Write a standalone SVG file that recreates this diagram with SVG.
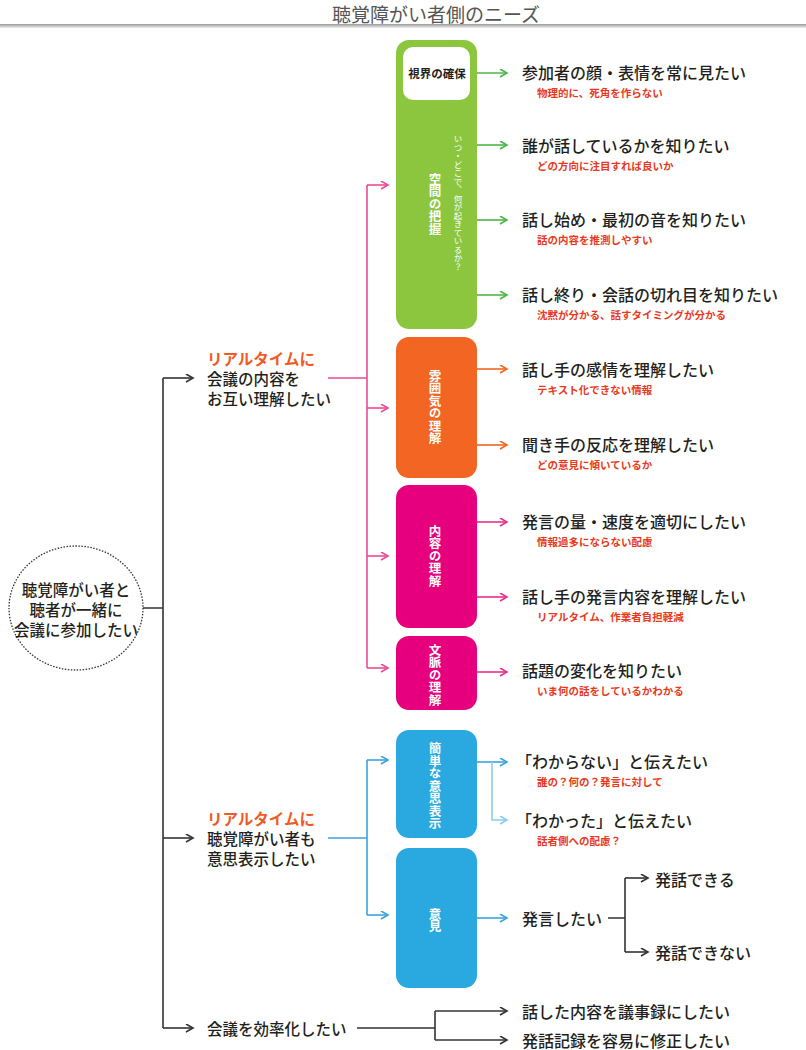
<svg xmlns="http://www.w3.org/2000/svg" width="806" height="1050" viewBox="0 0 806 1050">
<style>
text{font-family:"Noto Sans CJK JP","Noto Sans",sans-serif;dominant-baseline:central}
.t{font-size:16px;fill:#231f20;font-weight:500}
.b{font-size:15.5px;fill:#231f20;font-weight:500}
.o{font-size:15.5px;fill:#f15a24;font-weight:bold}
.s{font-size:10.5px;fill:#e8391d;font-weight:bold}
.v{writing-mode:vertical-rl;fill:#fff;font-size:12.5px;font-weight:bold;text-anchor:middle}
.vs{writing-mode:vertical-rl;fill:#fff;font-size:8.5px;text-anchor:middle}
.c{fill:none;stroke-width:1.6}
.k{stroke:#333}.p{stroke:#ec4a97}.g{stroke:#4cb648}.r{stroke:#f26522}.m{stroke:#e9308b}.bl{stroke:#3ba3dc}.lb{stroke:#8ecbec}
</style>
<defs>
<linearGradient id="hl" x1="0" y1="0" x2="0" y2="1"><stop offset="0" stop-color="#999"/><stop offset="1" stop-color="#eee"/></linearGradient>
<marker id="ak" markerWidth="10" markerHeight="10" refX="8" refY="4.5" orient="auto" markerUnits="userSpaceOnUse"><path d="M1,0.5 L8,4.5 L1,8.5" fill="none" stroke="#333" stroke-width="1.6"/></marker>
<marker id="ap" markerWidth="10" markerHeight="10" refX="8" refY="4.5" orient="auto" markerUnits="userSpaceOnUse"><path d="M1,0.5 L8,4.5 L1,8.5" fill="none" stroke="#ec4a97" stroke-width="1.6"/></marker>
<marker id="ag" markerWidth="10" markerHeight="10" refX="8" refY="4.5" orient="auto" markerUnits="userSpaceOnUse"><path d="M1,0.5 L8,4.5 L1,8.5" fill="none" stroke="#4cb648" stroke-width="1.6"/></marker>
<marker id="ar" markerWidth="10" markerHeight="10" refX="8" refY="4.5" orient="auto" markerUnits="userSpaceOnUse"><path d="M1,0.5 L8,4.5 L1,8.5" fill="none" stroke="#f26522" stroke-width="1.6"/></marker>
<marker id="am" markerWidth="10" markerHeight="10" refX="8" refY="4.5" orient="auto" markerUnits="userSpaceOnUse"><path d="M1,0.5 L8,4.5 L1,8.5" fill="none" stroke="#e9308b" stroke-width="1.6"/></marker>
<marker id="ab" markerWidth="10" markerHeight="10" refX="8" refY="4.5" orient="auto" markerUnits="userSpaceOnUse"><path d="M1,0.5 L8,4.5 L1,8.5" fill="none" stroke="#3ba3dc" stroke-width="1.6"/></marker>
<marker id="al" markerWidth="10" markerHeight="10" refX="8" refY="4.5" orient="auto" markerUnits="userSpaceOnUse"><path d="M1,0.5 L8,4.5 L1,8.5" fill="none" stroke="#8ecbec" stroke-width="1.6"/></marker>
</defs>
<rect width="806" height="1050" fill="#fff"/>
<g id="title">
<text x="436" y="13" font-size="19" fill="#555" text-anchor="middle">聴覚障がい者側のニーズ</text>
<rect x="0" y="24" width="806" height="4" fill="url(#hl)"/>
</g>
<g id="connectors">
<path class="c k" d="M142,608 H163 M163,378 V1028"/>
<path class="c k" d="M163,378 H193" marker-end="url(#ak)"/>
<path class="c k" d="M163,838 H193" marker-end="url(#ak)"/>
<path class="c k" d="M163,1028 H193" marker-end="url(#ak)"/>
<path class="c k" d="M357,1028 H435 M435,1011 V1040"/>
<path class="c k" d="M435,1011 H507" marker-end="url(#ak)"/>
<path class="c k" d="M435,1040 H507" marker-end="url(#ak)"/>
<path class="c k" d="M608,918 H625 M625,878 V952"/>
<path class="c k" d="M625,878 H648" marker-end="url(#ak)"/>
<path class="c k" d="M625,952 H648" marker-end="url(#ak)"/>
<path class="c p" d="M328,378 H367 M367,185 V668"/>
<path class="c p" d="M367,185 H388" marker-end="url(#ap)"/>
<path class="c p" d="M367,408 H388" marker-end="url(#ap)"/>
<path class="c p" d="M367,556 H388" marker-end="url(#ap)"/>
<path class="c p" d="M367,668 H388" marker-end="url(#ap)"/>
<path class="c bl" d="M328,838 H367 M367,760 V915"/>
<path class="c bl" d="M367,760 H388" marker-end="url(#ab)"/>
<path class="c bl" d="M367,915 H388" marker-end="url(#ab)"/>
<path class="c g" d="M470,73 H507" marker-end="url(#ag)"/>
<path class="c g" d="M477,145 H507" marker-end="url(#ag)"/>
<path class="c g" d="M477,220 H507" marker-end="url(#ag)"/>
<path class="c g" d="M477,295 H507" marker-end="url(#ag)"/>
<path class="c r" d="M477,369 H507" marker-end="url(#ar)"/>
<path class="c r" d="M477,445 H507" marker-end="url(#ar)"/>
<path class="c m" d="M477,522 H507" marker-end="url(#am)"/>
<path class="c m" d="M477,597 H507" marker-end="url(#am)"/>
<path class="c m" d="M477,672 H507" marker-end="url(#am)"/>
<path class="c bl" d="M477,762 H507" marker-end="url(#ab)"/>
<path class="c lb" d="M492,762 V820 H507" marker-end="url(#al)"/>
<path class="c bl" d="M477,918 H507" marker-end="url(#ab)"/>
</g>
<g id="root">
<ellipse cx="76" cy="608" rx="67" ry="62" fill="#fff" stroke="#333" stroke-width="1.3" stroke-dasharray="1.5 1.5"/>
<text x="76" y="589" font-size="15.5" font-weight="500" fill="#231f20" text-anchor="middle">聴覚障がい者と</text>
<text x="76" y="609" font-size="15.5" font-weight="500" fill="#231f20" text-anchor="middle">聴者が一緒に</text>
<text x="76" y="629" font-size="15.5" font-weight="500" fill="#231f20" text-anchor="middle">会議に参加したい</text>
</g>
<g id="need-understand">
<text class="o" x="207" y="358">リアルタイムに</text>
<text class="b" x="207" y="378">会議の内容を</text>
<text class="b" x="207" y="398">お互い理解したい</text>
</g>
<g id="need-express">
<text class="o" x="207" y="818">リアルタイムに</text>
<text class="b" x="207" y="838">聴覚障がい者も</text>
<text class="b" x="207" y="858">意思表示したい</text>
</g>
<g id="need-efficiency">
<text class="b" x="207" y="1028">会議を効率化したい</text>
</g>
<g id="block-space">
<rect x="396" y="40" width="81" height="289" rx="13" fill="#8cc63f"/>
<rect x="403" y="47" width="67" height="53" rx="10" fill="#fff"/>
<text x="437" y="73" font-size="11.5" font-weight="bold" fill="#231f20" text-anchor="middle">視界の確保</text>
<text class="v" x="435" y="204">空間の把握</text>
<text class="vs" x="458" y="203">いつ・どこで、何が起きているか？</text>
</g>
<g id="block-mood">
<rect x="396" y="337" width="81" height="141" rx="13" fill="#f26522"/>
<text class="v" x="435" y="407">雰囲気の理解</text>
</g>
<g id="block-content">
<rect x="396" y="485" width="81" height="143" rx="13" fill="#e6007e"/>
<text class="v" x="435" y="556">内容の理解</text>
</g>
<g id="block-context">
<rect x="396" y="636" width="81" height="74" rx="13" fill="#e6007e"/>
<text class="v" x="435" y="675">文脈の理解</text>
</g>
<g id="block-simple">
<rect x="396" y="730" width="81" height="108" rx="13" fill="#29a9e0"/>
<text class="v" x="435" y="786">簡単な意思表示</text>
</g>
<g id="block-opinion">
<rect x="396" y="848" width="81" height="140" rx="13" fill="#29a9e0"/>
<text class="v" x="435" y="920">意見</text>
</g>
<g id="leaf1"><text class="t" x="522" y="72">参加者の顔・表情を常に見たい</text><text class="s" x="537" y="92">物理的に、死角を作らない</text></g>
<g id="leaf2"><text class="t" x="522" y="145">誰が話しているかを知りたい</text><text class="s" x="537" y="165">どの方向に注目すれば良いか</text></g>
<g id="leaf3"><text class="t" x="522" y="219">話し始め・最初の音を知りたい</text><text class="s" x="537" y="239">話の内容を推測しやすい</text></g>
<g id="leaf4"><text class="t" x="522" y="294">話し終り・会話の切れ目を知りたい</text><text class="s" x="537" y="314">沈黙が分かる、話すタイミングが分かる</text></g>
<g id="leaf5"><text class="t" x="522" y="369">話し手の感情を理解したい</text><text class="s" x="537" y="389">テキスト化できない情報</text></g>
<g id="leaf6"><text class="t" x="522" y="444">聞き手の反応を理解したい</text><text class="s" x="537" y="464">どの意見に傾いているか</text></g>
<g id="leaf7"><text class="t" x="522" y="521">発言の量・速度を適切にしたい</text><text class="s" x="537" y="541">情報過多にならない配慮</text></g>
<g id="leaf8"><text class="t" x="522" y="596">話し手の発言内容を理解したい</text><text class="s" x="537" y="616">リアルタイム、作業者負担軽減</text></g>
<g id="leaf9"><text class="t" x="522" y="670">話題の変化を知りたい</text><text class="s" x="537" y="690">いま何の話をしているかわかる</text></g>
<g id="leaf10"><text class="t" x="516" y="761">「わからない」と伝えたい</text><text class="s" x="537" y="781">誰の？何の？発言に対して</text></g>
<g id="leaf11"><text class="t" x="516" y="820">「わかった」と伝えたい</text><text class="s" x="537" y="840">話者側への配慮？</text></g>
<g id="leaf12"><text class="t" x="522" y="918">発言したい</text></g>
<g id="leaf13"><text class="t" x="655" y="879">発話できる</text></g>
<g id="leaf14"><text class="t" x="655" y="952">発話できない</text></g>
<g id="leaf15"><text class="t" x="522" y="1011">話した内容を議事録にしたい</text></g>
<g id="leaf16"><text class="t" x="522" y="1040">発話記録を容易に修正したい</text></g>
</svg>
